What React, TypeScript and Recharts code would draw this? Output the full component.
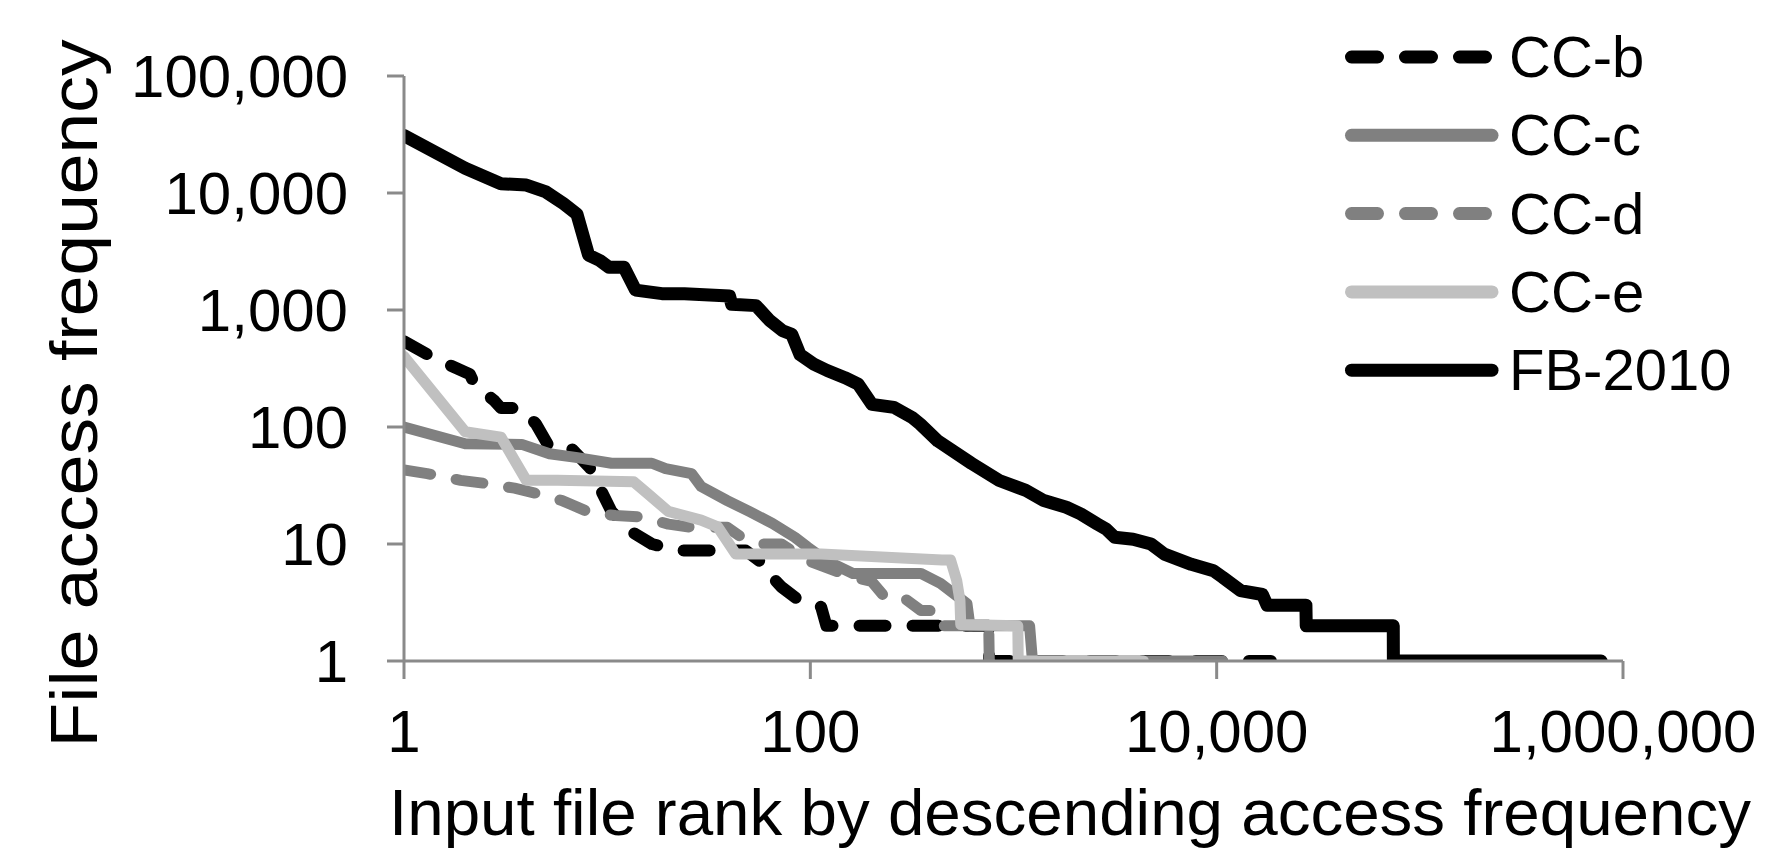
import React from 'react'
import { LineChart, Line, XAxis, YAxis, Legend } from 'recharts'

const FONT = '"Liberation Sans", Arial, sans-serif'
const AXIS_GREY = '#8a8a8a'

// rank -> access frequency
const FB_RANK = [1, 2, 3, 4, 5, 6.1, 7.1, 8.1, 9.2, 10.2, 12.1, 13.8, 18.6, 24, 40, 41, 54, 63, 73, 81, 89, 104, 121, 148, 172, 201, 258, 316, 347, 424, 620, 851, 1150, 1410, 1820, 2140, 2590, 2860, 3150, 3880, 4750, 5530, 7500, 9650, 10700, 13100, 16800, 17700, 27500, 27600, 74000, 74100, 780000]
const FB_FREQ = [31000, 16300, 12000, 11700, 10200, 8100, 6600, 2950, 2650, 2320, 2320, 1480, 1380, 1380, 1320, 1120, 1090, 815, 665, 620, 415, 345, 304, 264, 233, 156, 147, 121, 106, 76, 49, 34.9, 28.7, 23.5, 20.6, 18.1, 14.8, 13.4, 11.4, 11, 10, 8.2, 6.7, 5.9, 5.2, 4, 3.7, 3, 3, 2, 2, 1, 1]

const CCB_RANK = [1, 1.34, 1.77, 2.11, 2.22, 2.79, 3, 3.7, 4.45, 5.2, 6.7, 8.2, 10.5, 12.9, 16.6, 22.5, 32, 48, 62, 65, 72, 88, 113, 120, 490, 755, 760, 18500]
const CCB_FREQ = [540, 406, 324, 283, 233, 167, 145, 145, 107, 67, 65, 45, 19, 13, 10, 8.8, 8.8, 8.8, 6.3, 5.2, 4.3, 3.3, 2.9, 2, 2, 2, 1, 1]

const CCC_RANK = [1, 2, 3.8, 5.2, 7, 10.5, 16.6, 19.4, 26, 29, 39, 50, 65, 84, 97, 120, 162, 350, 437, 590, 610, 1200, 1240, 10700]
const CCC_FREQ = [100, 72, 71, 59, 55, 49, 49, 44, 40, 31, 23.5, 19, 15, 11.4, 9.4, 7.2, 5.6, 5.6, 4.6, 3.1, 2, 2, 1, 1]

const CCD_RANK = [1, 1.3, 1.9, 2.5, 3.5, 4.5, 6, 8.2, 11, 15, 20, 26, 39, 46, 59, 72, 97, 162, 200, 230, 280, 350, 425, 445, 755, 760, 850]
const CCD_FREQ = [43, 40, 35, 33, 30, 27, 23.5, 18.6, 17.5, 17, 14.8, 13.9, 13.9, 11.4, 10, 10, 7.2, 5.2, 4.8, 3.6, 3.6, 2.7, 2.7, 2, 2, 1, 1]

const CCE_RANK = [1, 2, 3, 4, 5.7, 13.5, 15.8, 20, 29, 35, 43, 113, 445, 490, 525, 545, 550, 1050, 1055, 4360]
const CCE_FREQ = [400, 91, 82, 35, 35, 34, 27, 19, 16, 14, 8.2, 8.2, 7.3, 7.3, 4.9, 3.3, 2.05, 2, 1, 1]

const X_TICKS = [1, 100, 10000, 1000000]
const Y_TICKS = [1, 10, 100, 1000, 10000, 100000]

const toPoints = (rank: number[], freq: number[]) => rank.map((r, i) => ({ r, f: freq[i] }))

const SERIES = [
  { name: 'CC-b', data: toPoints(CCB_RANK, CCB_FREQ), color: '#000000', width: 12, dash: '26 27' },
  { name: 'CC-c', data: toPoints(CCC_RANK, CCC_FREQ), color: '#808080', width: 11, dash: undefined },
  { name: 'CC-d', data: toPoints(CCD_RANK, CCD_FREQ), color: '#808080', width: 11, dash: '27 26' },
  { name: 'CC-e', data: toPoints(CCE_RANK, CCE_FREQ), color: '#c0c0c0', width: 11, dash: undefined },
  { name: 'FB-2010', data: toPoints(FB_RANK, FB_FREQ), color: '#000000', width: 13, dash: undefined },
]

const fmt = (v: number) => v.toLocaleString('en-US')

function LegendBox() {
  return (
    <svg width={440} height={390}>
      {SERIES.map((s, i) => {
        const y = 37 + i * 78.3
        return (
          <g key={s.name}>
            <line x1={21.5} x2={s.dash ? 155.5 : 162} y1={y} y2={y} stroke={s.color} strokeWidth={13}
              strokeLinecap="round" strokeDasharray={s.dash ? '26 28' : undefined} />
            <text x={179} y={y + 20} fontSize={58} fontFamily={FONT} fill="#000">{s.name}</text>
          </g>
        )
      })}
    </svg>
  )
}

function XTitle(props: any) {
  const vb = props.viewBox
  return (
    <text x={vb.x - 15} y={vb.y + 174} fontSize={65} fontFamily={FONT} fill="#000"
      textLength={1362} lengthAdjust="spacingAndGlyphs">
      Input file rank by descending access frequency
    </text>
  )
}

function YTitle(props: any) {
  const vb = props.viewBox
  const cx = vb.x + 97
  const cy = vb.y + vb.height / 2 + 25
  return (
    <text x={cx} y={cy} transform={`rotate(-90 ${cx} ${cy})`} textAnchor="middle" fontSize={66}
      fontFamily={FONT} fill="#000" textLength={708} lengthAdjust="spacingAndGlyphs">
      File access frequency
    </text>
  )
}

export default function App() {
  return (
    <div style={{ width: 1771, height: 850, background: '#fff' }}>
      <style>{'body{margin:0}'}</style>
      <LineChart width={1771} height={850} margin={{ top: 76, right: 148, bottom: 0, left: 0 }}>
        <XAxis dataKey="r" type="number" scale="log" domain={[1, 1000000]} ticks={X_TICKS} interval={0}
          allowDataOverflow tickFormatter={fmt} height={189} tickSize={18} tickMargin={30}
          axisLine={{ stroke: AXIS_GREY, strokeWidth: 3 }} tickLine={{ stroke: AXIS_GREY, strokeWidth: 3 }}
          tick={{ fill: '#000', fontSize: 60, fontFamily: FONT }} label={<XTitle />} />
        <YAxis dataKey="f" type="number" scale="log" domain={[1, 100000]} ticks={Y_TICKS} interval={0}
          allowDataOverflow tickFormatter={fmt} width={404} tickSize={17} tickMargin={39}
          axisLine={{ stroke: AXIS_GREY, strokeWidth: 3 }} tickLine={{ stroke: AXIS_GREY, strokeWidth: 3 }}
          tick={{ fill: '#000', fontSize: 60, fontFamily: FONT }} label={<YTitle />} />
        <Legend layout="vertical" align="center" verticalAlign="middle" content={<LegendBox />}
          wrapperStyle={{ position: 'absolute', left: 1330, top: 20, width: 440, height: 390 }} />
        {SERIES.map((s) => (
          <Line key={s.name} name={s.name} data={s.data} dataKey="f" type="linear" stroke={s.color}
            strokeWidth={s.width} strokeDasharray={s.dash} strokeLinecap="round" strokeLinejoin="round"
            dot={false} activeDot={false} isAnimationActive={false} />
        ))}
      </LineChart>
    </div>
  )
}
